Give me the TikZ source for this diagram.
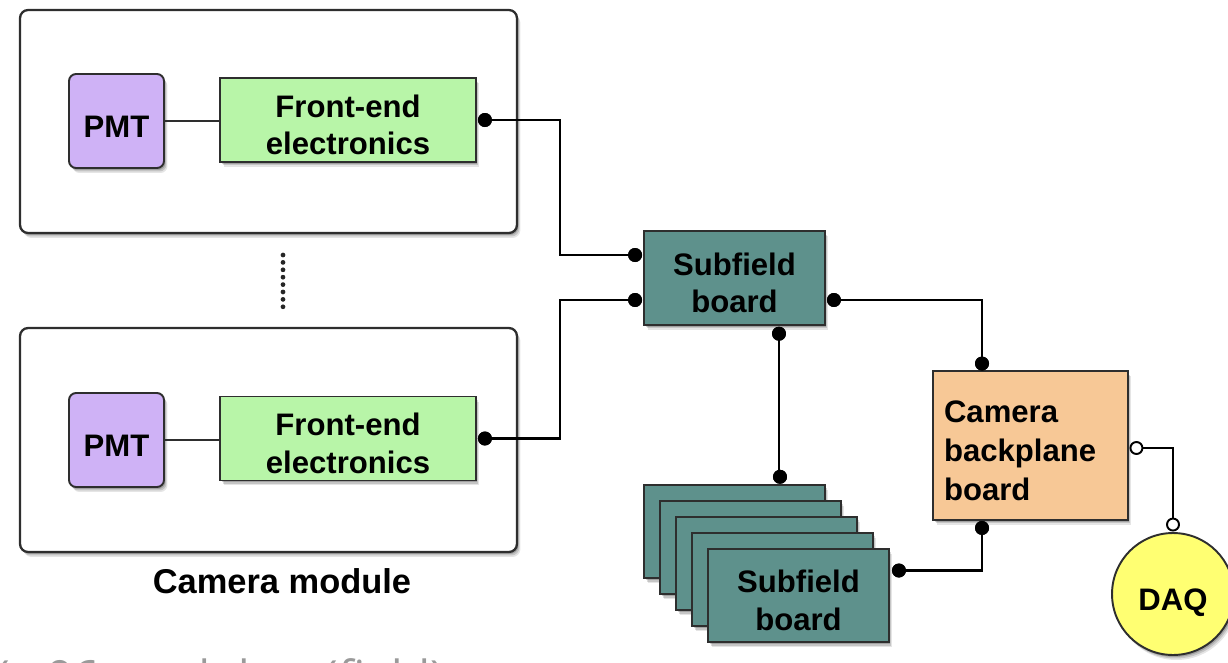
\documentclass[tikz,border=0pt]{standalone}
\usepackage{fontspec}
\setmainfont{Liberation Sans}
\newfontfamily\notefont{Open Sans}
\usetikzlibrary{shadows}

\definecolor{edge}{HTML}{2E2E2E}
\definecolor{pmtfill}{HTML}{CFB2F6}
\definecolor{fefill}{HTML}{B8F5A8}
\definecolor{sbfill}{HTML}{5E918C}
\definecolor{bpfill}{HTML}{F7C896}
\definecolor{daqfill}{HTML}{FFFF72}
\definecolor{notegray}{HTML}{9A9A9A}

\newcommand\labelfont{\bfseries\fontsize{17.7}{21.5}\selectfont}
% box text sits a little below the geometric centre of its box
\newcommand\boxtext[2][c]{\raisebox{-0.17cm}[\height][\depth]{%
  \begin{tabular}{@{}#1@{}}#2\end{tabular}}}

\tikzset{
  softshadow/.style={
    drop shadow={shadow xshift=0.07cm, shadow yshift=-0.10cm, opacity=0.10, fill=black},
    drop shadow={shadow xshift=0.05cm, shadow yshift=-0.07cm, opacity=0.14, fill=black},
    drop shadow={shadow xshift=0.03cm, shadow yshift=-0.04cm, opacity=0.18, fill=black}},
  module/.style={draw=edge, line width=1.3pt, fill=white, rounded corners=0.16cm,
    minimum width=9.94cm, softshadow},
  box/.style={draw=edge, line width=1.1pt, inner sep=0pt,
    font=\labelfont, softshadow},
  pmtbox/.style={box, fill=pmtfill, rounded corners=0.14cm,
    minimum width=1.9cm, minimum height=1.88cm},
  febox/.style={box, fill=fefill, minimum width=5.12cm, minimum height=1.68cm},
  sbbox/.style={box, fill=sbfill, minimum width=3.62cm, minimum height=1.87cm},
  bpbox/.style={box, fill=bpfill, align=left, text width=3.46cm, inner xsep=0.22cm,
    minimum height=2.98cm, font=\bfseries\fontsize{17.7}{22.1}\selectfont},
  daqbox/.style={box, circle, fill=daqfill, minimum size=2.44cm},
  wire/.style={line width=1.6pt, black},
  dot/.style={circle, fill=black, inner sep=0pt, minimum size=0.28cm},
  opendot/.style={circle, draw=black, line width=1.1pt, fill=white, inner sep=0pt,
    minimum size=0.24cm},
}

\begin{document}
\begin{tikzpicture}[x=0.02cm, y=-0.02cm]
\useasboundingbox (0,0) rectangle (1228,663);
\clip (0,0) rectangle (1228,663);

% camera modules
\node[module, minimum height=4.46cm] (modA) at (268.5,121.5) {};
\node[module, minimum height=4.48cm] (modB) at (268.5,440) {};

\node[pmtbox] (pmtA) at (116.5,121) {\boxtext{PMT}};
\node[febox]  (feA)  at (348,120) {\boxtext{Front-end\\electronics}};
\node[pmtbox] (pmtB) at (116.5,440) {\boxtext{PMT}};
\node[febox]  (feB)  at (348,438.5) {\boxtext{Front-end\\electronics}};

\draw[line width=1.3pt, edge] (pmtA.east) -- (pmtA.east -| feA.west);
\draw[line width=1.3pt, edge] (pmtB.east) -- (pmtB.east -| feB.west);

% ellipsis between the modules
\draw[line width=2.7pt, line cap=round, dash pattern=on 0pt off 4.21pt, black!85]
  (283,255) -- (283,307.5);

\node[font=\bfseries\fontsize{19.6}{23}\selectfont] (camlabel) at (282,581) {Camera module};

% subfield boards
\node[sbbox] (sb) at (734.5,278) {\boxtext{Subfield\\board}};
\foreach \k in {0,...,3} {
  \node[sbbox] (st\k) at (734.5+16*\k,531.5+16*\k) {};
}
\node[sbbox] (st4) at (798.5,595.5) {\boxtext{Subfield\\board}};

% backplane and DAQ
\node[bpbox] (bp) at (1030.5,445.5) {\boxtext[l]{Camera\\backplane\\board}};
\node[daqbox] (daq) at (1173,594) {\raisebox{-0.18cm}[\height][\depth]{DAQ}};

% connection points
\node[dot] (pA)   at ([xshift=0.16cm]feA.east) {};
\node[dot] (pB)   at ([xshift=0.16cm]feB.east) {};
\node[dot] (sbL1) at ([xshift=-0.16cm, yshift=0.46cm]sb.west) {};
\node[dot] (sbL2) at ([xshift=-0.16cm, yshift=-0.44cm]sb.west) {};
\node[dot] (sbR)  at ([xshift=0.16cm, yshift=-0.44cm]sb.east) {};
\node[dot] (sbB)  at ([xshift=0.89cm, yshift=-0.16cm]sb.south) {};
\node[dot] (stT)  at ([xshift=0.91cm, yshift=0.14cm]st0.north) {};
\node[dot] (stR)  at ([xshift=0.18cm, yshift=0.5cm]st4.east) {};
\node[dot] (bpT)  at ([xshift=-0.97cm, yshift=0.13cm]bp.north) {};
\node[dot] (bpB)  at ([xshift=-0.97cm, yshift=-0.14cm]bp.south) {};
\node[opendot] (bpR)  at ([xshift=0.15cm, yshift=-0.05cm]bp.east) {};
\node[opendot] (daqT) at ([yshift=0.15cm]daq.north) {};

\coordinate (bend) at (560,200);

% wiring
\draw[wire] (pA.center) -- (pA.center -| bend) -- (bend |- sbL1) -- (sbL1.center);
\draw[wire] (pB.center) -- (pB.center -| bend) -- (bend |- sbL2) -- (sbL2.center);
\draw[wire] (sbR.center) -| (bpT.center);
\draw[wire] (sbB.center) -- (sbB.center |- stT);
\draw[wire] (bpB.center) |- (stR.center);
\draw[wire] (bpR) -| (daqT);

% redraw the dots above the wires
\foreach \d in {pA,pB,sbL1,sbL2,sbR,sbB,stT,stR,bpT,bpB} {
  \fill (\d) circle (0.14cm);
}

% caption running off the lower edge
\node[anchor=base west, inner sep=0pt, text=notegray,
  font=\notefont\fontsize{26}{30}\selectfont] (note) at (-4,693)
  {(× 96 modules\hspace{0.35em} (field)};
\end{tikzpicture}
\end{document}
